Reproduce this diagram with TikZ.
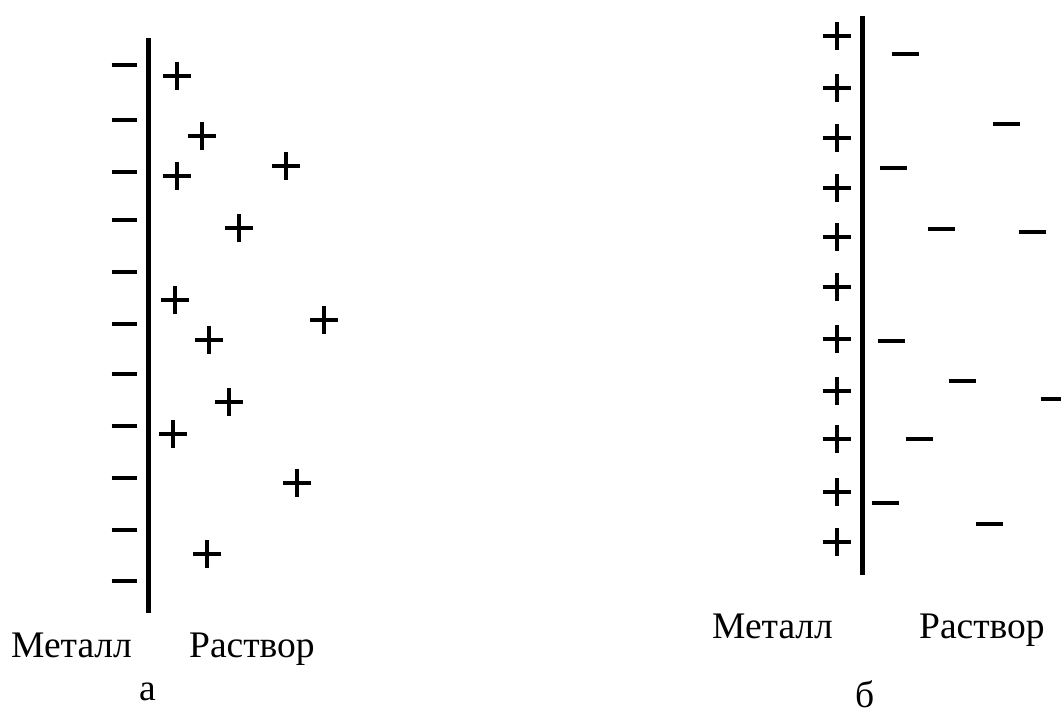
\documentclass[tikz,border=0pt]{standalone}
\usepackage{fontspec}
\setmainfont{Liberation Serif}
\begin{document}
\begin{tikzpicture}[x=1pt,y=-1pt,
  wall/.style={line width=5pt},
  sign/.style={line width=4pt},
  lbl/.style={font=\fontsize{37.5}{42}\selectfont, inner sep=0pt, anchor=base west}]
\useasboundingbox (0,0) rectangle (1061,713);
\clip (0,0) rectangle (1061,713);
% ---- panel a ----
\coordinate (a1) at (148,38);
\coordinate (a2) at (148,613);
\draw[wall] (a1) -- (a2);
\foreach \y in {65,120,172,220,272,324,374,426,478,530,581}
  \draw[sign] (111.5,\y) -- (136.5,\y);
\foreach \x/\y in {177/76,202/136,286/166,177/176,239/228,175/300,324/320,209/340,229/402,173/434,297/483,207/554}
  \draw[sign] (\x-14,\y) -- (\x+14,\y) (\x,\y-14) -- (\x,\y+14);
\node[lbl] (ma) at (11,657) {Металл};
\node[lbl] (ra) at (189,657) {Раствор};
\node[lbl] (la) at (139,700) {а};
% ---- panel b ----
\coordinate (b1) at (862,16);
\coordinate (b2) at (862,575);
\draw[wall] (b1) -- (b2);
\foreach \y in {36,88,138,188,237,287,339,391,439,492,542}
  \draw[sign] (822.7,\y) -- (850.7,\y) (836.7,\y-14) -- (836.7,\y+14);
\foreach \x/\y in {905/54,1006/124,893/168,941/229,1032/232,891/341,962/381,1054/399,919/439,885/503,989/524}
  \draw[sign] (\x-13.5,\y) -- (\x+13.5,\y);
\node[lbl] (mb) at (712,638) {Металл};
\node[lbl] (rb) at (919,638) {Раствор};
\node[lbl] (lb) at (855,707) {б};
\end{tikzpicture}
\end{document}
